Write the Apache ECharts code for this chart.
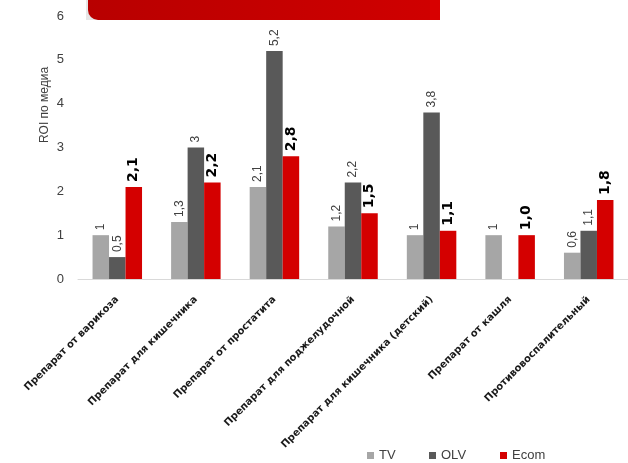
<!DOCTYPE html>
<html><head><meta charset="utf-8">
<script src="https://cdn.jsdelivr.net/npm/echarts@6/dist/echarts.min.js"></script>
<style>html,body{margin:0;padding:0;background:#fff}#c{width:628px;height:463px}</style>
</head><body><div id="c"></div>
<script>
const categories = ['Препарат от варикоза','Препарат для кишечника','Препарат от простатита','Препарат для поджелудочной','Препарат для кишечника (детский)','Препарат от кашля','Противовоспалительный'];
const tv = [1, 1.3, 2.1, 1.2, 1, 1, 0.6];
const olv = [0.5, 3, 5.2, 2.2, 3.8, null, 1.1];
const ecom = [2.1, 2.2, 2.8, 1.5, 1.1, 1.0, 1.8];
const yTicks = [0,1,2,3,4,5,6];

const chart = echarts.init(document.getElementById('c'));
const fmtPlain = p => String(p.value).replace('.', ',');
const fmtBold = p => p.value.toFixed(1).replace('.', ',');
const smallLabel = {show:true, position:'top', rotate:90, align:'left', verticalAlign:'middle', distance:5,
  fontFamily:'Liberation Sans', fontSize:12, color:'#404040', formatter: fmtPlain};
const legendText = {fontFamily:'Liberation Sans', fontSize:13, color:'#404040'};
chart.setOption({
  animation:false,
  grid:{left:78, right:-10, top:16, bottom:184},
  graphic:[
    {type:'rect', shape:{x:86, y:-12, width:354, height:32, r:[0,0,0,0]}, style:{fill:'#e6e6e6'}},
    {type:'rect', shape:{x:88, y:-12, width:352, height:32, r:[0,0,10,10]},
      style:{fill:new echarts.graphic.LinearGradient(0,0,1,0,[{offset:0,color:'#b80000'},{offset:1,color:'#d00000'}])}},
    {type:'rect', shape:{x:430, y:-12, width:10, height:32}, style:{fill:'#d80000'}},
    {type:'text', x:45, y:105, rotation:Math.PI/2,
      style:{text:'ROI по медиа', fontFamily:'Liberation Sans', fontSize:12, fill:'#404040', align:'center', verticalAlign:'middle'}}
  ],
  legend:[
    {left:367, top:449, padding:0, itemWidth:7, itemHeight:7, icon:'rect', data:['TV'], textStyle:legendText},
    {left:429, top:449, padding:0, itemWidth:7, itemHeight:7, icon:'rect', data:['OLV'], textStyle:legendText},
    {left:500, top:449, padding:0, itemWidth:7, itemHeight:7, icon:'rect', data:['Ecom'], textStyle:legendText}
  ],
  xAxis:{type:'category', data:categories,
    axisLine:{lineStyle:{color:'#d9d9d9', width:1}}, axisTick:{show:false},
    axisLabel:{interval:0, rotate:45, margin:19, fontFamily:'DejaVu Sans', fontWeight:'bold', fontSize:10, color:'#1a1a1a'}},
  yAxis:{type:'value', min:yTicks[0], max:yTicks[yTicks.length-1], interval:1,
    axisLine:{show:false}, axisTick:{show:false}, splitLine:{show:false},
    axisLabel:{margin:14, fontFamily:'Liberation Sans', fontSize:13, color:'#404040'}},
  series:[
    {name:'TV', type:'bar', data:tv, barGap:'0%', barCategoryGap:'37%', itemStyle:{color:'#a6a6a6'}, label:smallLabel},
    {name:'OLV', type:'bar', data:olv, itemStyle:{color:'#595959'}, label:smallLabel},
    {name:'Ecom', type:'bar', data:ecom, itemStyle:{color:'#d40000'},
      label:{show:true, position:'top', rotate:90, align:'left', verticalAlign:'middle', distance:5,
        fontFamily:'DejaVu Sans', fontWeight:'bold', fontSize:14, color:'#000', formatter: fmtBold}}
  ]
});
</script></body></html>
